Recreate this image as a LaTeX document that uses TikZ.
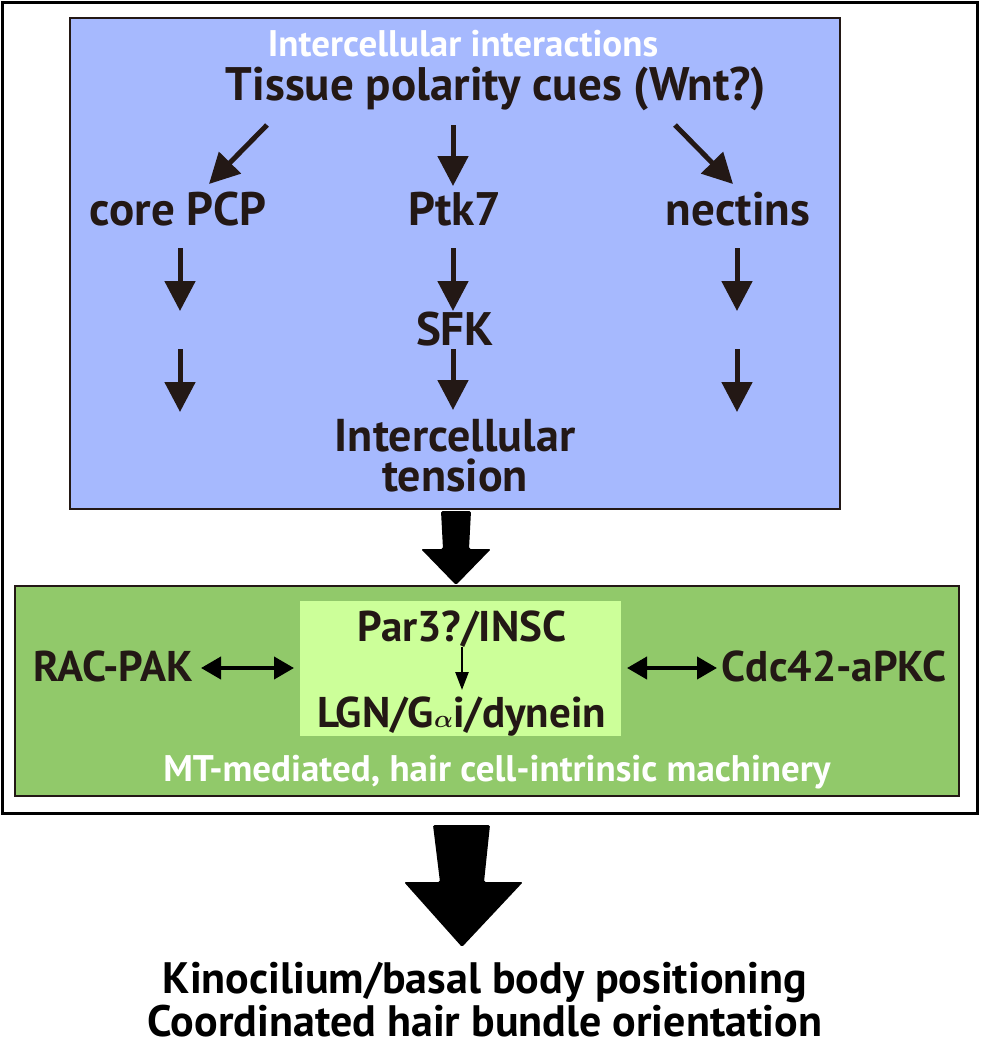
\documentclass[tikz,border=0pt]{standalone}
\usepackage{fontspec}
\setmainfont{PT Sans}
\usetikzlibrary{arrows.meta}
\definecolor{bluebg}{HTML}{A6B9FE}
\definecolor{greenbg}{HTML}{91C96A}
\definecolor{lightgreen}{HTML}{CCFF99}
\definecolor{ink}{HTML}{231815}
\tikzset{
  lbl/.style={font=\bfseries\fontsize{47}{52}\selectfont, text=ink, inner sep=0pt, anchor=base},
  glbl/.style={font=\bfseries\fontsize{43}{48}\selectfont, text=ink, inner sep=0pt, anchor=base},
  wlbl/.style={font=\bfseries\fontsize{37}{42}\selectfont, text=white, inner sep=0pt, anchor=base},
  biglbl/.style={font=\bfseries\fontsize{44}{50}\selectfont, text=black, inner sep=0pt, anchor=base},
  arr/.style={color=ink, line width=5pt, -{Triangle[length=30pt,width=30pt]}},
  dblarr/.style={color=black, line width=4pt, {Triangle[length=20pt,width=22pt]}-{Triangle[length=20pt,width=22pt]}},
  thinarr/.style={color=black, line width=2.5pt, -{Triangle[length=18pt,width=13pt]}},
  bigarrow/.style={fill=black, rounded corners=1.5pt},
  panel/.style={draw=ink, line width=2pt}
}
\begin{document}
\begin{tikzpicture}[x=1pt,y=-1pt]
\useasboundingbox (0,0) rectangle (981,1050);
\fill[white] (0,0) rectangle (981,1050);
% frames
\draw[line width=3pt, black] (2.5,2.5) rectangle (977.5,813);
\draw[panel, fill=bluebg] (70,18) rectangle (840,509);
\draw[panel, fill=greenbg] (15,586) rectangle (959,796);
\fill[lightgreen] (300,601) rectangle (621,736);

% blue panel texts
\node[wlbl] (inter) at (463,56) {Intercellular interactions};
\node[lbl] (tissue) at (496,100) {Tissue polarity cues (Wnt?)};
\node[lbl] (pcp) at (178,225) {core PCP};
\node[lbl] (ptk) at (455,225) {Ptk7};
\node[lbl] (nect) at (738,225) {nectins};
\node[lbl] (sfk) at (455,345) {SFK};
\node[lbl, anchor=south, align=center, font=\bfseries\fontsize{46}{40}\selectfont] (tens) at (455,492) {Intercellular\\tension};

% arrow coordinates
\coordinate (tL) at (267,125); \coordinate (hL) at (209,184);
\coordinate (tC) at (453,125); \coordinate (hC) at (453,186);
\coordinate (tR) at (675,125); \coordinate (hR) at (733,184);
\coordinate (l1a) at (180,248); \coordinate (l1b) at (180,311);
\coordinate (l2a) at (180,349); \coordinate (l2b) at (180,412);
\coordinate (c1a) at (453,248); \coordinate (c1b) at (453,311);
\coordinate (c2a) at (453,349); \coordinate (c2b) at (453,410);
\coordinate (r1a) at (737,248); \coordinate (r1b) at (737,311);
\coordinate (r2a) at (737,349); \coordinate (r2b) at (737,412);

\draw[arr] (tL) -- (hL);
\draw[arr] (tC) -- (hC);
\draw[arr] (tR) -- (hR);
\draw[arr] (l1a) -- (l1b);
\draw[arr] (l2a) -- (l2b);
\draw[arr] (c1a) -- (c1b);
\draw[arr] (c2a) -- (c2b);
\draw[arr] (r1a) -- (r1b);
\draw[arr] (r2a) -- (r2b);

% big arrow blue -> green
\fill[bigarrow] (441,511) -- (471,511) -- (469,549) -- (491,549) -- (456,585) -- (421,549) -- (443,549) -- cycle;

% green panel texts
\node[glbl] (rac) at (113,681) {RAC-PAK};
\node[glbl] (cdc) at (834,681) {Cdc42-aPKC};
\node[glbl] (par) at (462,641) {Par3?/INSC};
\node[glbl] (lgn) at (462,727) {LGN/G{\boldmath$\alpha$}i/dynein};
\node[wlbl] (mt) at (497,781) {MT-mediated, hair cell-intrinsic machinery};

\coordinate (racR) at (201,668); \coordinate (inL) at (294,668);
\coordinate (inR) at (627,668); \coordinate (cdcL) at (717,668);
\draw[dblarr] (racR) -- (inL);
\draw[dblarr] (inR) -- (cdcL);
\coordinate (pa) at (462,647); \coordinate (pb) at (462,690);
\draw[thinarr] (pa) -- (pb);

% bottom big arrow
\fill[bigarrow] (433,825) -- (490,825) -- (484,882) -- (523,882) -- (462,947) -- (404,882) -- (440,882) -- cycle;

\node[biglbl] (kino) at (485,993) {Kinocilium/basal body positioning};
\node[biglbl] (coord) at (485,1036) {Coordinated hair bundle orientation};
\end{tikzpicture}
\end{document}
